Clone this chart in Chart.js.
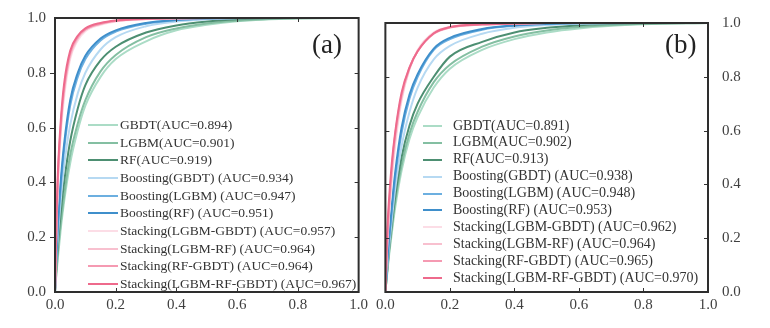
<!DOCTYPE html>
<html>
<head>
<meta charset="utf-8">
<script src="https://cdn.jsdelivr.net/npm/chart.js@4.4.1/dist/chart.umd.min.js"></script>
<style>
  body { margin: 0; background: #fff; }
  #page { position: relative; width: 770px; height: 328px; overflow: hidden; font-family: "Liberation Serif", "Times New Roman", serif; }
  .panel { position: absolute; top: 0; height: 328px; }
  #panelA { left: 0; width: 372px; }
  #panelB { left: 372px; width: 398px; }
  .legend { position: absolute; color: #333; white-space: nowrap; }
  .legend .row { position: relative; }
  .legend .swatch { position: absolute; top: 50%; height: 2px; margin-top: -1px; }
  .legend .txt { position: absolute; top: 0; }
  .tag { position: absolute; font-size: 27px; color: #222; line-height: 1; }
</style>
</head>
<body>
<div id="page">
  <div class="panel" id="panelA"><canvas id="rocA" width="372" height="328"></canvas></div>
  <div class="panel" id="panelB"><canvas id="rocB" width="398" height="328"></canvas></div>
  <div class="tag" style="left:312px;top:31px">(a)</div>
  <div class="tag" style="left:665px;top:31px">(b)</div>
</div>
<script>
// false positive rate grid shared by every curve
const fpr = [0, 0.005, 0.01, 0.02, 0.03, 0.05, 0.075, 0.1, 0.15, 0.2, 0.3, 0.4, 0.5, 0.6, 0.8, 1];

// axis ticks
const tickValues = [0, 0.2, 0.4, 0.6, 0.8, 1.0];
const tickLabels = ['0.0', '0.2', '0.4', '0.6', '0.8', '1.0'];

// (a) true positive rates
const aGBDT   = [0, 0.07, 0.13, 0.24, 0.33, 0.47, 0.59, 0.68, 0.785, 0.85, 0.915, 0.955, 0.975, 0.988, 0.998, 1];
const aLGBM   = [0, 0.08, 0.15, 0.26, 0.35, 0.50, 0.615, 0.70, 0.805, 0.865, 0.93, 0.962, 0.98, 0.99, 0.999, 1];
const aRF     = [0, 0.10, 0.18, 0.30, 0.40, 0.55, 0.67, 0.755, 0.845, 0.895, 0.947, 0.973, 0.987, 0.995, 1, 1];
const aBGBDT  = [0, 0.12, 0.21, 0.35, 0.46, 0.61, 0.725, 0.80, 0.885, 0.93, 0.97, 0.987, 0.995, 0.999, 1, 1];
const aBLGBM  = [0, 0.14, 0.24, 0.40, 0.52, 0.68, 0.785, 0.85, 0.918, 0.95, 0.979, 0.992, 0.997, 1, 1, 1];
const aBRF    = [0, 0.15, 0.26, 0.42, 0.54, 0.70, 0.80, 0.862, 0.925, 0.955, 0.982, 0.993, 0.998, 1, 1, 1];
const aSLG    = [0, 0.24, 0.40, 0.59, 0.71, 0.85, 0.918, 0.952, 0.975, 0.987, 0.995, 0.998, 0.999, 1, 1, 1];
const aSLR    = [0, 0.25, 0.42, 0.61, 0.73, 0.86, 0.925, 0.956, 0.978, 0.989, 0.996, 0.999, 1, 1, 1, 1];
const aSRG    = [0, 0.26, 0.43, 0.62, 0.74, 0.87, 0.93, 0.958, 0.979, 0.989, 0.996, 0.999, 1, 1, 1, 1];
const aSLRG   = [0, 0.28, 0.45, 0.64, 0.76, 0.88, 0.935, 0.962, 0.982, 0.991, 0.997, 0.999, 1, 1, 1, 1];

// (b) true positive rates
const bGBDT   = [0, 0.06, 0.12, 0.22, 0.31, 0.45, 0.57, 0.65, 0.76, 0.83, 0.90, 0.94, 0.965, 0.98, 0.995, 1];
const bLGBM   = [0, 0.065, 0.13, 0.235, 0.33, 0.47, 0.59, 0.67, 0.78, 0.845, 0.912, 0.95, 0.972, 0.985, 0.997, 1];
const bRF     = [0, 0.07, 0.14, 0.25, 0.35, 0.50, 0.62, 0.70, 0.80, 0.875, 0.93, 0.965, 0.982, 0.992, 0.999, 1];
const bBGBDT  = [0, 0.08, 0.15, 0.27, 0.38, 0.54, 0.67, 0.76, 0.865, 0.915, 0.96, 0.982, 0.992, 0.997, 1, 1];
const bBLGBM  = [0, 0.09, 0.17, 0.30, 0.42, 0.59, 0.72, 0.80, 0.90, 0.94, 0.975, 0.99, 0.996, 0.999, 1, 1];
const bBRF    = [0, 0.10, 0.18, 0.32, 0.44, 0.61, 0.735, 0.81, 0.905, 0.945, 0.978, 0.991, 0.997, 1, 1, 1];
const bSLG    = [0, 0.15, 0.26, 0.42, 0.54, 0.71, 0.83, 0.90, 0.965, 0.985, 0.995, 0.998, 1, 1, 1, 1];
const bSLR    = [0, 0.16, 0.27, 0.44, 0.56, 0.72, 0.83, 0.897, 0.962, 0.984, 0.995, 0.998, 1, 1, 1, 1];
const bSRG    = [0, 0.17, 0.29, 0.46, 0.58, 0.73, 0.835, 0.895, 0.96, 0.983, 0.994, 0.998, 1, 1, 1, 1];
const bSLRG   = [0, 0.20, 0.32, 0.48, 0.59, 0.74, 0.835, 0.895, 0.962, 0.985, 0.995, 0.998, 1, 1, 1, 1];

const labelsA = [
  'GBDT(AUC=0.894)', 'LGBM(AUC=0.901)', 'RF(AUC=0.919)',
  'Boosting(GBDT) (AUC=0.934)', 'Boosting(LGBM) (AUC=0.947)', 'Boosting(RF) (AUC=0.951)',
  'Stacking(LGBM-GBDT) (AUC=0.957)', 'Stacking(LGBM-RF) (AUC=0.964)',
  'Stacking(RF-GBDT) (AUC=0.964)', 'Stacking(LGBM-RF-GBDT) (AUC=0.967)'
];
const labelsB = [
  'GBDT(AUC=0.891)', 'LGBM(AUC=0.902)', 'RF(AUC=0.913)',
  'Boosting(GBDT) (AUC=0.938)', 'Boosting(LGBM) (AUC=0.948)', 'Boosting(RF) (AUC=0.953)',
  'Stacking(LGBM-GBDT) (AUC=0.962)', 'Stacking(LGBM-RF) (AUC=0.964)',
  'Stacking(RF-GBDT) (AUC=0.965)', 'Stacking(LGBM-RF-GBDT) (AUC=0.970)'
];

const lineColors = [
  '#abdcc6', '#84bfa2', '#4d8f72',
  '#b6d9f2', '#6cafe0', '#3f8fcb',
  '#fcdde6', '#f8c0cf', '#f59ab2', '#ee6a8c'
];

const curvesA = [aGBDT, aLGBM, aRF, aBGBDT, aBLGBM, aBRF, aSLG, aSLR, aSRG, aSLRG];
const curvesB = [bGBDT, bLGBM, bRF, bBGBDT, bBLGBM, bBRF, bSLG, bSLR, bSRG, bSLRG];

const tickFont = { family: '"Liberation Serif", "Times New Roman", serif', size: 15 };

// frame box plus the small tick marks on all four sides
const frameTicks = {
  id: 'frameTicks',
  afterDatasetsDraw(chart, args, opts) {
    const { ctx, chartArea: a, scales: { x, y } } = chart;
    ctx.save();
    ctx.strokeStyle = '#333';
    ctx.lineWidth = 1;
    ctx.beginPath();
    tickValues.slice(1, -1).forEach(v => {
      const px = Math.round(x.getPixelForValue(v)) + 0.5;
      const py = Math.round(y.getPixelForValue(v)) + 0.5;
      ctx.moveTo(px, a.bottom); ctx.lineTo(px, a.bottom - 4);
      ctx.moveTo(px, a.top); ctx.lineTo(px, a.top + 4);
      if (opts.outerLeft) {
        ctx.moveTo(a.left, py); ctx.lineTo(a.left - 5, py);
      } else {
        ctx.moveTo(a.left, py); ctx.lineTo(a.left + 4, py);
      }
      ctx.moveTo(a.right, py); ctx.lineTo(a.right - 4, py);
    });
    ctx.stroke();
    ctx.lineWidth = 2;
    ctx.strokeStyle = '#2e2e2e';
    ctx.strokeRect(a.left, a.top, a.right - a.left, a.bottom - a.top);
    ctx.restore();
  }
};

function makeDatasets(curves, labels) {
  return curves.map((tpr, i) => ({
    label: labels[i],
    data: fpr.map((f, k) => ({ x: f, y: tpr[k] })),
    borderColor: lineColors[i],
    borderWidth: 2,
    pointRadius: 0,
    cubicInterpolationMode: 'monotone',
    order: -i
  }));
}

function axis(extra) {
  return Object.assign({
    type: 'linear',
    min: 0,
    max: 1,
    border: { display: false },
    grid: { display: false, drawTicks: false },
    afterBuildTicks: s => { s.ticks = tickValues.map(v => ({ value: v })); },
    ticks: {
      color: '#3f3f3f',
      font: tickFont,
      autoSkip: false,
      maxRotation: 0,
      callback: (v, i) => tickLabels[i]
    }
  }, extra);
}

function makeChart(id, curves, labels, side) {
  const left = side === 'left';
  return new Chart(document.getElementById(id), {
    type: 'line',
    data: { datasets: makeDatasets(curves, labels) },
    options: {
      responsive: false,
      animation: false,
      devicePixelRatio: 1,
      layout: { padding: left ? { left: 0, right: 10, top: 14, bottom: 0 } : { left: 11, right: 22, top: 14, bottom: 0 } },
      scales: {
        x: axis({ position: 'bottom', afterFit: s => { s.height = 36; } }),
        y: axis({ position: side, afterFit: s => { s.width = left ? 55 : 40; } })
      },
      plugins: {
        legend: { display: false },
        tooltip: { enabled: false },
        frameTicks: { outerLeft: left }
      }
    },
    plugins: [frameTicks]
  });
}

const chartA = makeChart('rocA', curvesA, labelsA, 'left');
const chartB = makeChart('rocB', curvesB, labelsB, 'right');
chartA.options.scales.x.ticks.padding = 4;
chartA.options.scales.y.ticks.padding = 9;
chartB.options.scales.x.ticks.padding = 4;
chartB.options.scales.y.ticks.padding = 14;
chartA.update();
chartB.update();

// legend drawn inside each plot, from the chart's own datasets
function buildLegend(chart, panelId, cfg) {
  const box = document.createElement('div');
  box.className = 'legend';
  box.style.left = cfg.left + 'px';
  box.style.top = (cfg.firstRow - cfg.step / 2) + 'px';
  box.style.fontSize = cfg.fontSize + 'px';
  chart.data.datasets.forEach(ds => {
    const row = document.createElement('div');
    row.className = 'row';
    row.style.height = cfg.step + 'px';
    row.style.lineHeight = cfg.step + 'px';
    const sw = document.createElement('span');
    sw.className = 'swatch';
    sw.style.left = '0px';
    sw.style.width = cfg.lineLen + 'px';
    sw.style.background = ds.borderColor;
    const tx = document.createElement('span');
    tx.className = 'txt';
    tx.style.left = cfg.textOffset + 'px';
    tx.textContent = ds.label;
    row.appendChild(sw);
    row.appendChild(tx);
    box.appendChild(row);
  });
  document.getElementById(panelId).appendChild(box);
}

buildLegend(chartA, 'panelA', { left: 88, firstRow: 125, step: 17.67, fontSize: 13.5, lineLen: 30, textOffset: 32 });
buildLegend(chartB, 'panelB', { left: 51, firstRow: 126, step: 16.9, fontSize: 14, lineLen: 19, textOffset: 30 });
</script>
</body>
</html>
